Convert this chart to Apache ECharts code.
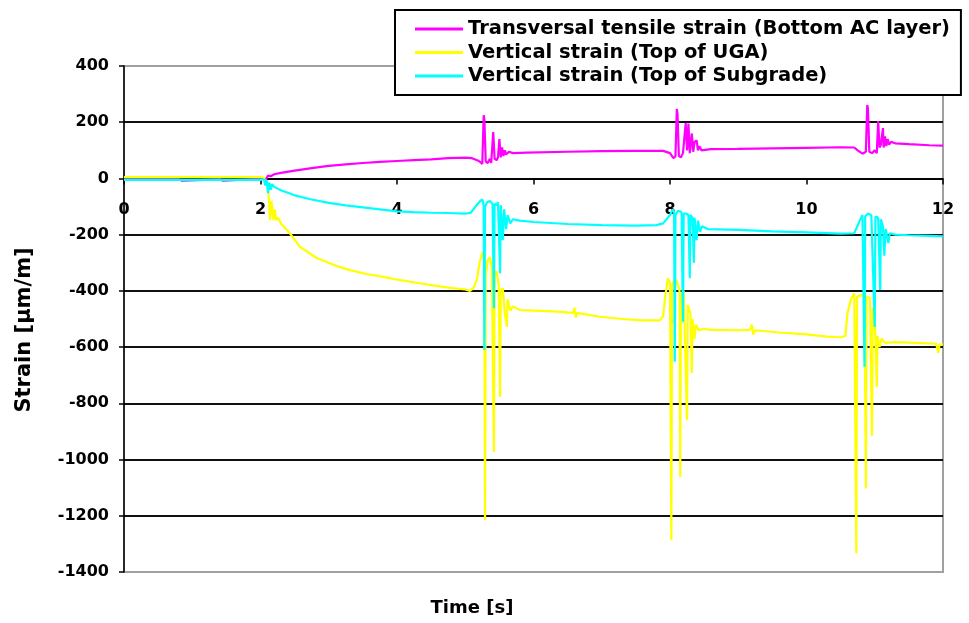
<!DOCTYPE html>
<html><head><meta charset="utf-8">
<script src="https://cdn.jsdelivr.net/npm/echarts@6/dist/echarts.min.js"></script>
<style>html,body{margin:0;padding:0;background:#fff}#c{width:969px;height:623px}</style>
</head><body><div id="c"></div>
<script>
// ---- data (time in s, strain in µm/m) ----
const seriesNames = ['Transversal tensile strain (Bottom AC layer)', 'Vertical strain (Top of UGA)', 'Vertical strain (Top of Subgrade)'];
const xTicks = [0, 2, 4, 6, 8, 10, 12];
const yTicks = [-1400, -1200, -1000, -800, -600, -400, -200, 0, 200, 400];

const magentaTime = [0,0.8,0.85,0.87,1.4,1.45,1.47,2.0,2.05,2.07,2.09,2.11,2.15,2.2,2.3,2.5,2.75,3.0,3.25,3.5,3.75,4.0,4.25,4.5,4.75,5.0,5.1,5.2,5.25,5.27,5.28,5.30,5.33,5.36,5.38,5.41,5.43,5.46,5.48,5.50,5.52,5.54,5.56,5.58,5.60,5.64,5.7,5.9,6.5,7.0,7.5,7.9,8.0,8.05,8.08,8.10,8.11,8.13,8.16,8.19,8.21,8.23,8.25,8.27,8.29,8.32,8.34,8.36,8.39,8.41,8.43,8.46,8.6,9.0,9.5,10.0,10.5,10.7,10.75,10.82,10.87,10.89,10.90,10.92,10.96,11.0,11.03,11.05,11.07,11.09,11.12,11.13,11.15,11.17,11.19,11.21,11.24,11.3,11.5,11.8,12];
const magentaStrain = [-3,-3,-8,-3,-3,-8,-3,-2,0,-8,2,10,8,15,20,28,37,45,50,55,59,62,65,68,72,74,72,62,52,225,210,60,55,70,55,165,70,65,75,140,75,110,80,100,85,95,90,92,95,97,98,98,90,72,78,247,230,80,75,90,85,197,100,195,90,160,95,130,135,100,115,100,104,105,107,109,111,110,100,88,95,261,250,95,90,100,90,204,110,120,179,110,150,115,140,120,130,125,122,118,117];

const yellowTime = [0,2.0,2.05,2.08,2.1,2.12,2.14,2.16,2.19,2.21,2.23,2.26,2.3,2.43,2.58,2.83,3.1,3.31,3.55,3.8,4.05,4.29,4.55,4.78,5.0,5.07,5.12,5.17,5.21,5.24,5.26,5.28,5.29,5.30,5.33,5.36,5.39,5.42,5.43,5.46,5.49,5.51,5.52,5.55,5.58,5.61,5.62,5.66,5.7,5.8,6.0,6.3,6.58,6.6,6.62,6.64,6.97,7.3,7.6,7.85,7.9,7.93,7.97,8.0,8.02,8.03,8.07,8.10,8.12,8.14,8.15,8.16,8.2,8.25,8.26,8.3,8.32,8.33,8.36,8.38,8.42,8.5,8.6,9.0,9.17,9.2,9.22,9.25,9.6,10.0,10.3,10.5,10.57,10.6,10.65,10.7,10.73,10.74,10.8,10.85,10.87,10.88,10.93,10.96,10.97,11.0,11.03,11.04,11.07,11.1,11.15,11.3,11.6,11.9,11.93,11.95,12];
const yellowStrain = [5,5,3,-20,-10,-60,-148,-80,-148,-110,-148,-140,-160,-195,-244,-284,-310,-326,-340,-350,-362,-371,-381,-389,-395,-400,-390,-360,-300,-270,-262,-300,-1215,-350,-290,-280,-320,-973,-340,-330,-380,-777,-400,-390,-480,-528,-430,-470,-455,-468,-470,-473,-478,-460,-495,-478,-492,-500,-505,-505,-490,-420,-355,-370,-1286,-380,-360,-365,-360,-400,-1062,-420,-400,-860,-450,-480,-692,-500,-570,-520,-540,-535,-539,-540,-539,-520,-555,-540,-548,-555,-563,-565,-560,-480,-430,-409,-1333,-420,-415,-420,-1103,-420,-425,-915,-460,-500,-742,-560,-600,-570,-585,-582,-585,-588,-620,-590,-590];

const cyanTime = [0,2.0,2.05,2.07,2.09,2.11,2.13,2.15,2.17,2.2,2.3,2.5,2.75,3.0,3.25,3.5,3.75,4.0,4.25,4.5,4.75,5.0,5.08,5.15,5.22,5.25,5.27,5.28,5.29,5.32,5.36,5.40,5.42,5.43,5.46,5.48,5.51,5.52,5.55,5.57,5.60,5.62,5.66,5.7,5.8,6.0,6.5,7.0,7.5,7.8,7.9,8.0,8.04,8.06,8.07,8.08,8.12,8.17,8.19,8.20,8.24,8.27,8.29,8.30,8.33,8.35,8.36,8.39,8.41,8.44,8.47,8.55,9.0,9.5,10.0,10.5,10.7,10.78,10.82,10.85,10.86,10.9,10.95,11.0,11.01,11.05,11.08,11.09,11.12,11.14,11.16,11.2,11.22,11.3,11.5,11.8,12];
const cyanStrain = [-5,-5,-3,-25,-5,-52,-15,-40,-20,-30,-42,-60,-75,-87,-96,-103,-110,-117,-120,-122,-123,-125,-122,-100,-80,-75,-95,-610,-100,-85,-80,-90,-462,-90,-95,-85,-337,-95,-220,-110,-180,-130,-160,-145,-150,-155,-162,-166,-168,-166,-160,-130,-110,-120,-652,-130,-115,-120,-510,-125,-125,-130,-355,-130,-140,-300,-140,-220,-150,-190,-170,-180,-183,-188,-192,-196,-195,-150,-130,-670,-135,-125,-130,-528,-135,-140,-397,-145,-170,-275,-180,-230,-195,-200,-202,-204,-206];

const colors = ['#FF00FF', '#FFFF00', '#00FFFF'];

function pairs(t, v) { return t.map((x, i) => [x, v[i]]); }

const FONT = 'DejaVu Sans';
const W = 969, H = 623;
const GRID = { left: 124, right: 26, top: 66, bottom: 51 };
const plotH = H - GRID.top - GRID.bottom;
const yMin = yTicks[0], yMax = yTicks[yTicks.length - 1];
// pixel row of y = 0: the time axis crosses the strain axis there (as in the reference)
const zeroY = GRID.top + (yMax - 0) / (yMax - yMin) * plotH;

const chart = echarts.init(document.getElementById('c'), null, { renderer: 'canvas' });
chart.setOption({
  animation: false,
  backgroundColor: '#fff',
  grid: [
    Object.assign({ show: true, borderColor: '#a0a0a0', borderWidth: 2, backgroundColor: 'transparent', outerBoundsMode: 'none' }, GRID),
    // helper grid whose top edge sits on y = 0; it carries the visible time axis
    { left: GRID.left, right: GRID.right, top: zeroY, height: 30, show: false, outerBoundsMode: 'none' }
  ],
  legend: {
    orient: 'vertical', left: 395, top: 10,
    itemWidth: 48, itemHeight: 3, itemGap: 3.5, icon: 'rect',
    backgroundColor: '#fff', borderColor: '#000', borderWidth: 2,
    padding: [9, 11, 9, 20],
    textStyle: { fontFamily: FONT, fontWeight: 'bold', fontSize: 19.5, color: '#000', lineHeight: 18 },
    data: seriesNames
  },
  xAxis: [
    {
      type: 'value', gridIndex: 0, min: xTicks[0], max: xTicks[xTicks.length - 1], interval: 2,
      axisLine: { show: false }, axisTick: { show: false }, axisLabel: { show: false }, splitLine: { show: false }
    },
    {
      type: 'value', gridIndex: 1, min: xTicks[0], max: xTicks[xTicks.length - 1], interval: 2, position: 'top',
      axisLine: { show: true, onZero: false, lineStyle: { color: '#000', width: 1.5 } },
      axisTick: { show: true, inside: true, length: 6, lineStyle: { color: '#000', width: 1.5 } },
      axisLabel: { inside: true, margin: 23, fontFamily: FONT, fontWeight: 'bold', fontSize: 16, color: '#000' },
      splitLine: { show: false }
    }
  ],
  yAxis: [
    {
      type: 'value', gridIndex: 0, min: yMin, max: yMax, interval: 200,
      axisLine: { show: true, onZero: false, lineStyle: { color: '#000', width: 1.5 } },
      axisTick: { show: true, inside: false, length: 5, lineStyle: { color: '#000', width: 1.5 } },
      axisLabel: { margin: 15, fontFamily: FONT, fontWeight: 'bold', fontSize: 16, color: '#000', formatter: v => String(v) },
      splitLine: { show: true, showMinLine: false, showMaxLine: false, lineStyle: { color: '#111', width: 2 } }
    },
    {
      type: 'value', gridIndex: 1, min: 0, max: 1, show: false
    }
  ],
  graphic: [
    { type: 'text', x: 25, y: 330, rotation: Math.PI / 2, z: 10,
      style: { text: 'Strain [µm/m]', fill: '#000', font: 'bold 21px "DejaVu Sans"', textAlign: 'center', textVerticalAlign: 'middle' } },
    { type: 'text', x: 472, y: 608, z: 10,
      style: { text: 'Time [s]', fill: '#000', font: 'bold 18px "DejaVu Sans"', textAlign: 'center', textVerticalAlign: 'middle' } }
  ],
  series: [
    { name: seriesNames[0], type: 'line', xAxisIndex: 0, yAxisIndex: 0, data: pairs(magentaTime, magentaStrain), showSymbol: false, symbol: 'none', color: colors[0], lineStyle: { width: 2.2, color: colors[0] }, z: 3 },
    { name: seriesNames[1], type: 'line', xAxisIndex: 0, yAxisIndex: 0, data: pairs(yellowTime, yellowStrain), showSymbol: false, symbol: 'none', color: colors[1], lineStyle: { width: 2.2, color: colors[1] }, z: 4 },
    { name: seriesNames[2], type: 'line', xAxisIndex: 0, yAxisIndex: 0, data: pairs(cyanTime, cyanStrain), showSymbol: false, symbol: 'none', color: colors[2], lineStyle: { width: 2.2, color: colors[2] }, z: 5 }
  ]
});
</script></body></html>
